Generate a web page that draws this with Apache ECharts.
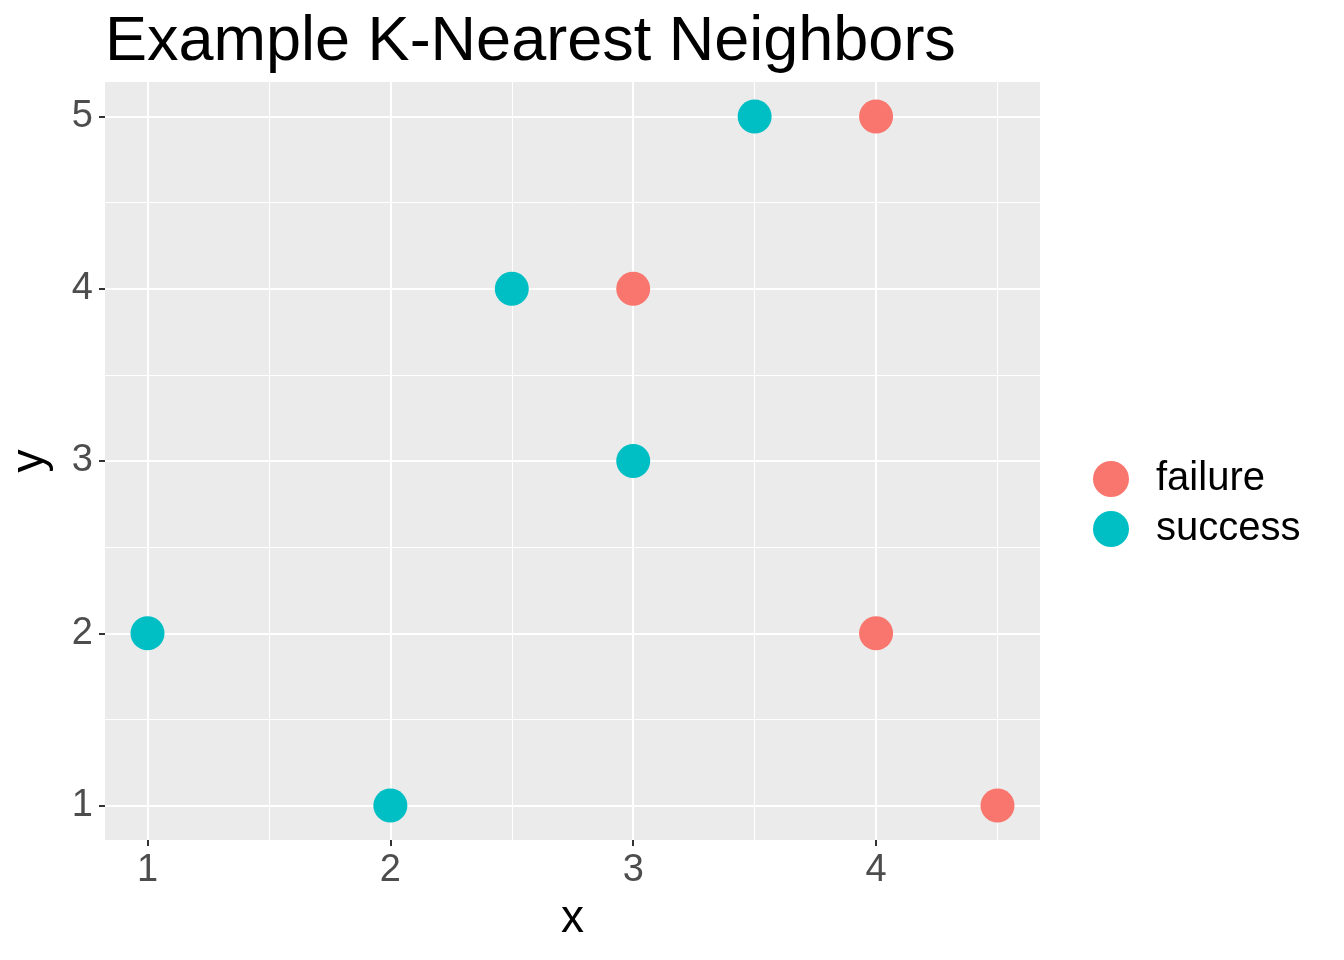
<!DOCTYPE html>
<html><head><meta charset="utf-8">
<script src="https://cdn.jsdelivr.net/npm/echarts@6/dist/echarts.min.js"></script>
<style>html,body{margin:0;padding:0;background:#fff}#c{width:1344px;height:960px}</style>
</head><body><div id="c"></div>
<script>
const successPts = [[1,2],[2,1],[2.5,4],[3,3],[3.5,5]];
const failurePts = [[3,4],[4,5],[4,2],[4.5,1]];
const xTicks = [1,2,3,4];
const yTicks = [1,2,3,4,5];
const xMinor = [1.5,2.5,3.5,4.5];
const yMinor = [1.5,2.5,3.5,4.5];

const gridLines = [];
xTicks.forEach(v=>gridLines.push({xAxis:v,lineStyle:{width:2}}));
xMinor.forEach(v=>gridLines.push({xAxis:v,lineStyle:{width:1}}));
yTicks.forEach(v=>gridLines.push({yAxis:v,lineStyle:{width:2}}));
yMinor.forEach(v=>gridLines.push({yAxis:v,lineStyle:{width:1}}));

const ch = echarts.init(document.getElementById('c'));
ch.setOption({
  animation:false,
  title:{text:'Example K-Nearest Neighbors',left:100,top:6,textStyle:{fontFamily:'Liberation Sans',fontSize:63,fontWeight:'normal',color:'#000'}},
  grid:{left:105,right:304,top:82,bottom:120,show:true,backgroundColor:'#EBEBEB',borderWidth:0,outerBoundsMode:'none'},
  legend:{orient:'vertical',left:1088,top:454,itemWidth:36,itemHeight:36,itemGap:10,icon:'circle',
    textStyle:{fontFamily:'Liberation Sans',fontSize:40,color:'#000',padding:[0,0,0,22]},
    data:['failure','success']},
  xAxis:{type:'value',min:0.825,max:4.675,name:'x',nameLocation:'middle',nameGap:56,
    nameTextStyle:{fontFamily:'Liberation Sans',fontSize:46,color:'#000'},
    axisLine:{show:false},splitLine:{show:false},
    axisTick:{show:true,length:6,lineStyle:{color:'#333',width:2},customValues:xTicks},
    axisLabel:{customValues:xTicks,fontFamily:'Liberation Sans',fontSize:38,color:'#4D4D4D',margin:12}},
  yAxis:{type:'value',min:0.8,max:5.2,name:'y',nameLocation:'middle',nameGap:52,
    nameTextStyle:{fontFamily:'Liberation Sans',fontSize:46,color:'#000'},
    axisLine:{show:false},splitLine:{show:false},
    axisTick:{show:true,length:6,lineStyle:{color:'#333',width:2},customValues:yTicks},
    axisLabel:{customValues:yTicks,fontFamily:'Liberation Sans',fontSize:38,color:'#4D4D4D',margin:12}},
  series:[
    {type:'scatter',data:[],silent:true,z:1,
     markLine:{silent:true,z:1,symbol:'none',label:{show:false},lineStyle:{color:'#fff',type:'solid'},data:gridLines}},
    {name:'failure',type:'scatter',z:10,data:failurePts,symbolSize:34,itemStyle:{color:'#F8766D',opacity:1}},
    {name:'success',type:'scatter',z:10,data:successPts,symbolSize:34,itemStyle:{color:'#00BFC4',opacity:1}}
  ]
});
</script></body></html>
